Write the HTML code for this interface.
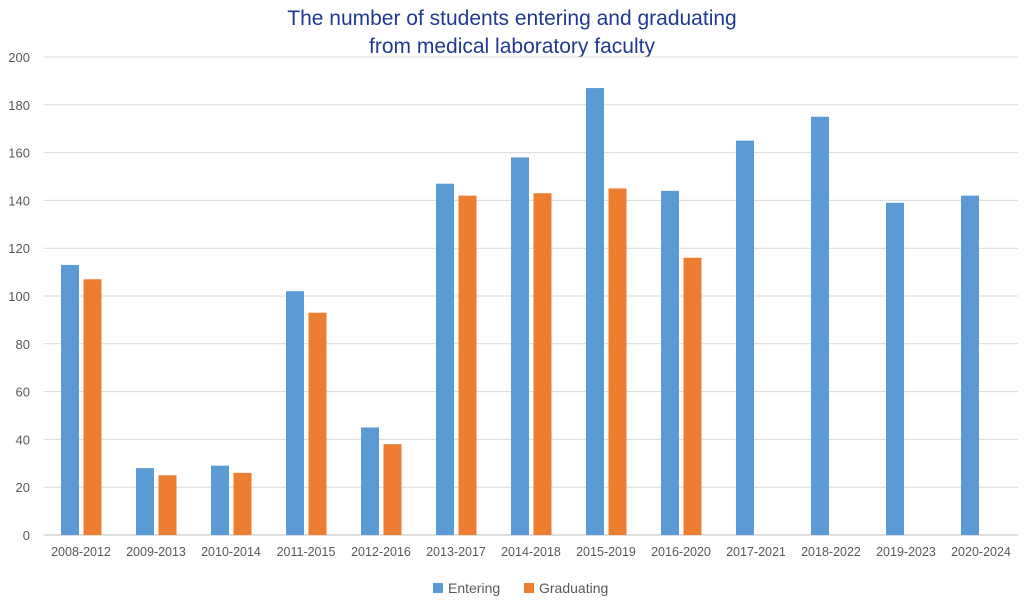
<!DOCTYPE html>
<html><head><meta charset="utf-8"><style>
body{margin:0;background:#fff;font-family:"Liberation Sans",sans-serif;}
svg text{font-family:"Liberation Sans",sans-serif;}
</style></head><body>
<svg id="chart" width="1024" height="606">
<text x="512" y="25" text-anchor="middle" font-size="21" fill="#1f3a8f">The number of students entering and graduating</text>
<text x="512" y="53" text-anchor="middle" font-size="21" fill="#1f3a8f">from medical laboratory faculty</text>
<g id="grid"></g><g id="bars"></g><g id="xlabels"></g>
<g>
<rect x="433" y="583" width="10" height="10" fill="#5b9bd5"/>
<text x="448" y="593" font-size="14" fill="#595959">Entering</text>
<rect x="524" y="583" width="10" height="10" fill="#ed7d31"/>
<text x="539" y="593" font-size="14" fill="#595959">Graduating</text>
</g>
</svg>
<script>
const categories=["2008-2012","2009-2013","2010-2014","2011-2015","2012-2016","2013-2017","2014-2018","2015-2019","2016-2020","2017-2021","2018-2022","2019-2023","2020-2024"];
const entering=[113,28,29,102,45,147,158,187,144,165,175,139,142];
const graduating=[107,25,26,93,38,142,143,145,116,null,null,null,null];
const yTicks=[0,20,40,60,80,100,120,140,160,180,200];
const NS="http://www.w3.org/2000/svg";
const x0=43.5,step=75,yBase=535,yTop=57,yMax=200;
const y=v=>yBase-(v/yMax)*(yBase-yTop);
const xc=i=>x0+step*(i+0.5);
function mk(tag,attrs,parent){const e=document.createElementNS(NS,tag);for(const k in attrs)e.setAttribute(k,attrs[k]);parent.appendChild(e);return e;}
const grid=document.getElementById('grid'),bars=document.getElementById('bars'),xl=document.getElementById('xlabels');
yTicks.forEach(t=>{
 const l=mk('line',{x1:x0,x2:1018,y1:y(t),y2:y(t),stroke:t===0?'#bfbfbf':'#d9d9d9','stroke-width':1},grid);
 
 
 const tx=mk('text',{x:30,y:y(t)+5,'text-anchor':'end','font-size':13,fill:'#595959'},grid);
 tx.textContent=t;
 
 
});
categories.forEach((c,i)=>{
 const tx=mk('text',{x:xc(i),y:556,'text-anchor':'middle','font-size':12.5,fill:'#595959'},xl);
 tx.textContent=c;
 
 
 const e=entering[i];
 if(e!=null){const r=mk('rect',{x:xc(i)-20,y:y(e),width:18,height:yBase-y(e),fill:'#5b9bd5'},bars);
  
  }
 const g=graduating[i];
 if(g!=null){const r=mk('rect',{x:xc(i)+2.5,y:y(g),width:18,height:yBase-y(g),fill:'#ed7d31'},bars);
  
  }
});
</script>
</body></html>
